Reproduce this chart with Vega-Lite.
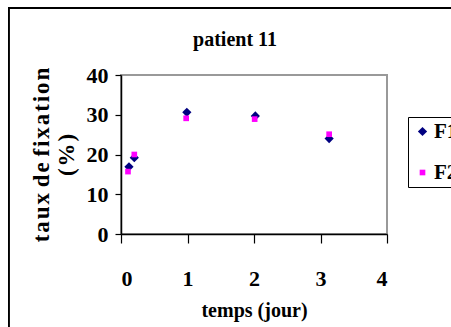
{
  "$schema": "https://vega.github.io/schema/vega-lite/v6.json",
  "width": 266,
  "height": 159,
  "autosize": {"type": "none"},
  "padding": {"left": 121, "top": 75, "right": 64, "bottom": 93},
  "background": "white",
  "title": {
    "text": "patient 11",
    "frame": "group",
    "font": "Liberation Serif",
    "fontSize": 20,
    "fontWeight": "bold",
    "color": "black",
    "dx": -19,
    "offset": 0,
    "dy": 43
  },
  "data": {
    "values": [
      {"temps": 0.12, "taux": 16.9, "serie": "F1"},
      {"temps": 0.2, "taux": 19.2, "serie": "F1"},
      {"temps": 0.99, "taux": 30.6, "serie": "F1"},
      {"temps": 2.02, "taux": 29.7, "serie": "F1"},
      {"temps": 3.13, "taux": 24.0, "serie": "F1"},
      {"temps": 0.105, "taux": 15.7, "serie": "F2"},
      {"temps": 0.2, "taux": 20.0, "serie": "F2"},
      {"temps": 0.98, "taux": 29.1, "serie": "F2"},
      {"temps": 2.01, "taux": 28.9, "serie": "F2"},
      {"temps": 3.13, "taux": 25.1, "serie": "F2"}
    ]
  },
  "layer": [
    {
      "mark": {"type": "point", "filled": true, "opacity": 1},
      "encoding": {
        "x": {
          "field": "temps",
          "type": "quantitative",
          "scale": {"domain": [0, 4], "nice": false},
          "axis": {"values": [0, 1, 2, 3, 4], "format": "d", "labelOverlap": false, "title": "temps (jour)"}
        },
        "y": {
          "field": "taux",
          "type": "quantitative",
          "scale": {"domain": [0, 40], "nice": false},
          "axis": {
            "values": [0, 10, 20, 30, 40],
            "format": "d",
            "labelOverlap": false,
            "title": ["t\u200aa\u200au\u200ax d\u200ae f\u200ai\u200ax\u200aa\u200at\u200ai\u200ao\u200an", "(\u200a%\u200a)"]
          }
        },
        "color": {
          "field": "serie",
          "type": "nominal",
          "scale": {"domain": ["F1", "F2"], "range": ["#000080", "#FF00FF"]},
          "legend": {
            "orient": "none",
            "legendX": 287,
            "legendY": 42,
            "title": null,
            "strokeColor": "black",
            "fillColor": "white",
            "padding": 4,
            "rowPadding": 19,
            "labelFont": "Liberation Serif",
            "labelFontSize": 21,
            "labelFontWeight": "bold",
            "labelColor": "black",
            "labelOffset": 1,
            "symbolSize": 70,
            "symbolStrokeWidth": 0
          }
        },
        "shape": {
          "field": "serie",
          "type": "nominal",
          "scale": {"domain": ["F1", "F2"], "range": ["diamond", "square"]}
        },
        "size": {
          "field": "serie",
          "type": "nominal",
          "scale": {"domain": ["F1", "F2"], "range": [85, 32]},
          "legend": null
        }
      }
    },
    {
      "description": "left edge of the outer chart frame",
      "mark": {"type": "rule", "stroke": "black", "strokeWidth": 1.2, "clip": false},
      "encoding": {
        "x": {"datum": -1.69, "type": "quantitative", "scale": {"domain": [0, 4], "nice": false},
              "axis": {"values": [0, 1, 2, 3, 4], "format": "d", "labelOverlap": false, "title": "temps (jour)"}},
        "y": {"datum": 56.9, "type": "quantitative", "scale": {"domain": [0, 40], "nice": false},
              "axis": {"values": [0, 10, 20, 30, 40], "format": "d", "labelOverlap": false,
                       "title": ["t\u200aa\u200au\u200ax d\u200ae f\u200ai\u200ax\u200aa\u200at\u200ai\u200ao\u200an", "(\u200a%\u200a)"]}},
        "y2": {"datum": -30}
      }
    },
    {
      "description": "top edge of the outer chart frame",
      "mark": {"type": "rule", "stroke": "black", "strokeWidth": 1.2, "clip": false},
      "encoding": {
        "x": {"datum": -1.69, "type": "quantitative", "scale": {"domain": [0, 4], "nice": false},
              "axis": {"values": [0, 1, 2, 3, 4], "format": "d", "labelOverlap": false, "title": "temps (jour)"}},
        "x2": {"datum": 5.5},
        "y": {"datum": 56.9, "type": "quantitative", "scale": {"domain": [0, 40], "nice": false},
              "axis": {"values": [0, 10, 20, 30, 40], "format": "d", "labelOverlap": false,
                       "title": ["t\u200aa\u200au\u200ax d\u200ae f\u200ai\u200ax\u200aa\u200at\u200ai\u200ao\u200an", "(\u200a%\u200a)"]}}
      }
    }
  ],
  "config": {
    "view": {"stroke": "#999999", "strokeWidth": 2},
    "axis": {
      "grid": false,
      "domainColor": "black",
      "domainWidth": 1.5,
      "tickColor": "black",
      "tickWidth": 1.2,
      "labelFont": "Liberation Serif",
      "labelFontWeight": "bold",
      "labelFontSize": 22,
      "labelColor": "black",
      "titleFont": "Liberation Serif",
      "titleFontWeight": "bold",
      "titleFontSize": 20,
      "titleColor": "black"
    },
    "axisX": {"tickSize": 9, "labelPadding": 25, "titlePadding": 11},
    "axisY": {"tickSize": 6, "labelPadding": 7, "titlePadding": 8, "titleLineHeight": 25, "titleFontSize": 23}
  }
}
